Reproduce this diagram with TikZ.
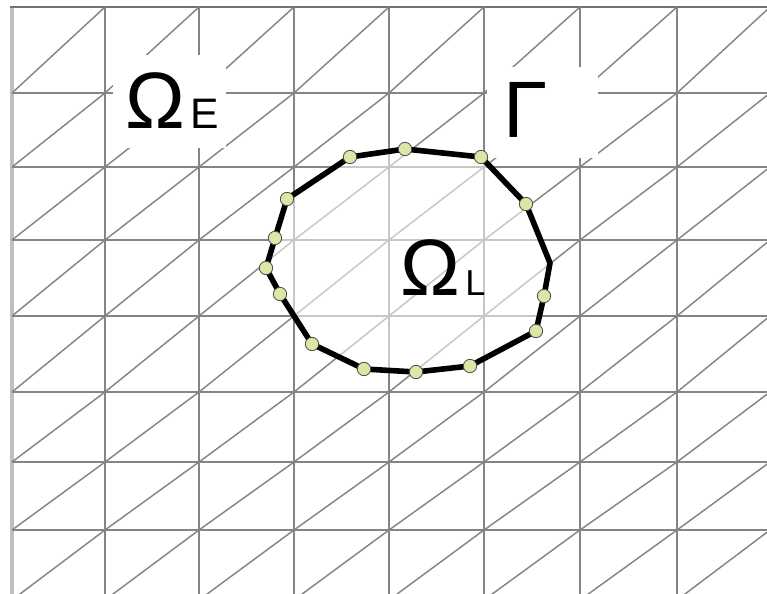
\documentclass[tikz,border=0pt]{standalone}
\usepackage{fontspec}
\setmainfont{Liberation Sans}
\begin{document}
\begin{tikzpicture}[x=0.75pt,y=-0.75pt,
  gridline/.style={draw=black!48,line width=1.4pt},
  diagline/.style={draw=black!48,line width=1.1pt},
  labelbg/.style={fill=white,draw=none},
  boundary/.style={draw=black,line width=4.2pt,line join=round},
  bdot/.style={circle,fill=dotfill,draw=black!70,line width=0.6pt,minimum size=10pt,inner sep=0pt},
  biglabel/.style={inner sep=0pt,anchor=base west,font=\fontsize{60}{60}\selectfont},
  sublabel/.style={inner sep=0pt,anchor=base west},
]
\definecolor{dotfill}{RGB}{222,230,166}
\useasboundingbox (0,0) rectangle (767,593);
\begin{scope}
\clip (0,0) rectangle (767,593);
% vertical grid lines
\foreach \x in {105,199,294,389,484,580,677}
  \draw[gridline] (\x,7) -- (\x,600);
\draw[draw=black!25,line width=2.6pt] (12,7) -- (12,600);
% horizontal grid lines
\foreach \y in {93,167,240,316,392,462,530}
  \draw[gridline] (12,\y) -- (780,\y);
\draw[draw=black!55,line width=1.8pt] (10,7) -- (780,7);
% diagonals
\foreach \xa/\xb in {12/105,105/199,199/294,294/389,389/484,484/580,580/677,677/770}
  \foreach \ya/\yb in {7/93,93/167,167/240,240/316,316/392,392/462,462/530,530/600}
    \draw[diagline] (\xa,\yb) -- (\xb,\ya);
\end{scope}
% blank areas behind labels
\fill[labelbg] (113,55) rectangle (226,148);
\fill[labelbg] (487,67) rectangle (598,158);
% boundary polygon
\coordinate (p1) at (350,157);
\coordinate (p2) at (405,149);
\coordinate (p3) at (481,157);
\coordinate (p4) at (526,204);
\coordinate (p5) at (550,263);
\coordinate (p6) at (544,296);
\coordinate (p7) at (536,331);
\coordinate (p8) at (470,366);
\coordinate (p9) at (416,372);
\coordinate (p10) at (364,369);
\coordinate (p11) at (312,344);
\coordinate (p12) at (280,294);
\coordinate (p13) at (266,268);
\coordinate (p14) at (275,238);
\coordinate (p15) at (287,199);
\fill[white,opacity=0.55] (p1) -- (p2) -- (p3) -- (p4) -- (p5) -- (p6) -- (p7) -- (p8) -- (p9) -- (p10) -- (p11) -- (p12) -- (p13) -- (p14) -- (p15) -- cycle;
\draw[boundary] (p1) -- (p2) -- (p3) -- (p4) -- (p5) -- (p6) -- (p7) -- (p8) -- (p9) -- (p10) -- (p11) -- (p12) -- (p13) -- (p14) -- (p15) -- cycle;
\foreach \p in {1,2,3,4,6,7,8,9,10,11,12,13,14,15}
  \node[bdot] (d\p) at (p\p) {};
% labels
\node[biglabel] (omegaE) at (125,128) {Ω};
\node[sublabel,font=\fontsize{32}{32}\selectfont] (subE) at (190,128) {E};
\node[biglabel] (gamma) at (503,137) {Γ};
\node[biglabel] (omegaL) at (400,295) {Ω};
\node[sublabel,font=\fontsize{27}{27}\selectfont] (subL) at (465,295) {L};
\end{tikzpicture}
\end{document}
